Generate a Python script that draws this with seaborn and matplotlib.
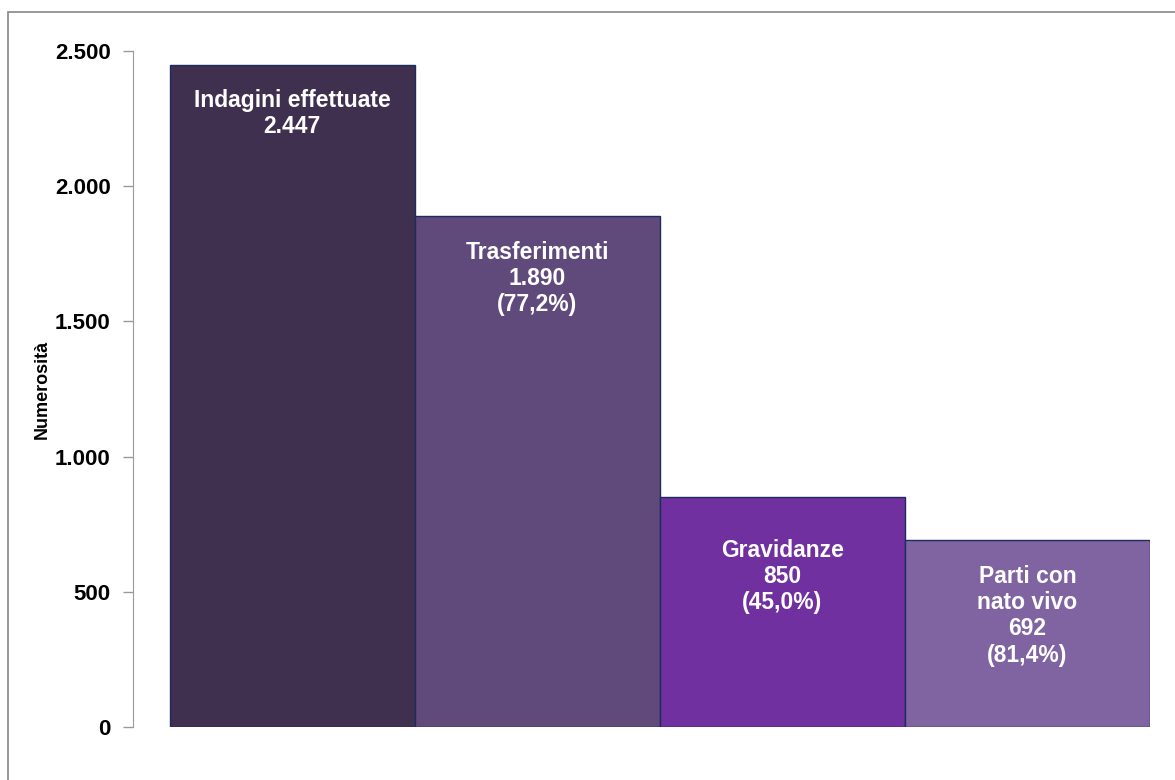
import matplotlib
matplotlib.use("Agg")
import matplotlib.pyplot as plt
import matplotlib.patches as mpatches
from matplotlib.ticker import FuncFormatter
import seaborn as sns

# data
categories = ['Indagini effettuate', 'Trasferimenti', 'Gravidanze', 'Parti con\nnato vivo']
values = [2447, 1890, 850, 692]
percents = [None, '77,2%', '45,0%', '81,4%']
bar_colors = ['#3F3050', '#604A7B', '#7030A0', '#8064A2']
yticks = [0, 500, 1000, 1500, 2000, 2500]

sns.set_style('white')
plt.rcParams['font.family'] = ['Liberation Sans', 'DejaVu Sans']

fig = plt.figure(figsize=(11.75, 7.8), dpi=100)
ax = fig.add_axes([133 / 1175, 53 / 780, 1017 / 1175, 676 / 780])

sns.barplot(x=categories, y=values, hue=categories, palette=bar_colors,
            width=1.0, edgecolor='#1F2A5E', linewidth=1.0, legend=False,
            saturation=1, ax=ax)

ax.set_xlim(-0.65, 3.5)
ax.set_ylim(0, 2500)
ax.set_yticks(yticks)
ax.yaxis.set_major_formatter(FuncFormatter(lambda v, p: f"{int(v):,}".replace(',', '.')))
ax.tick_params(axis='y', direction='out', length=7, width=1, color='#999999',
               labelsize=16, labelcolor='black', pad=9, left=True)
for lbl in ax.get_yticklabels():
    lbl.set_fontweight('bold')
ax.set_xticks([])
ax.set_xlabel('')
ax.set_ylabel('Numerosità', fontsize=13, fontweight='bold', color='black', labelpad=3)

for s in ['top', 'right', 'bottom']:
    ax.spines[s].set_visible(False)
ax.spines['left'].set_color('#999999')

# labels inside the bars
label_pad = [17, 18, 30, 18]
for i, (cat, val, pct) in enumerate(zip(categories, values, percents)):
    txt = f"{cat}\n{val:,}".replace(',', '.')
    if pct:
        txt += f"\n({pct})"
    ax.annotate(txt, xy=(i, val), xytext=(0, -label_pad[i]), textcoords='offset points',
                ha='center', va='top', color='white', fontsize=16.5, fontweight='bold',
                linespacing=1.18)

# outer frame
fig.patches.append(mpatches.Rectangle((8 / 1175, -0.1), 1.2, (780 - 12) / 780 + 0.1,
                                      transform=fig.transFigure, fill=False,
                                      edgecolor='#888888', linewidth=1.2))

fig.savefig('out.png', dpi=100)
